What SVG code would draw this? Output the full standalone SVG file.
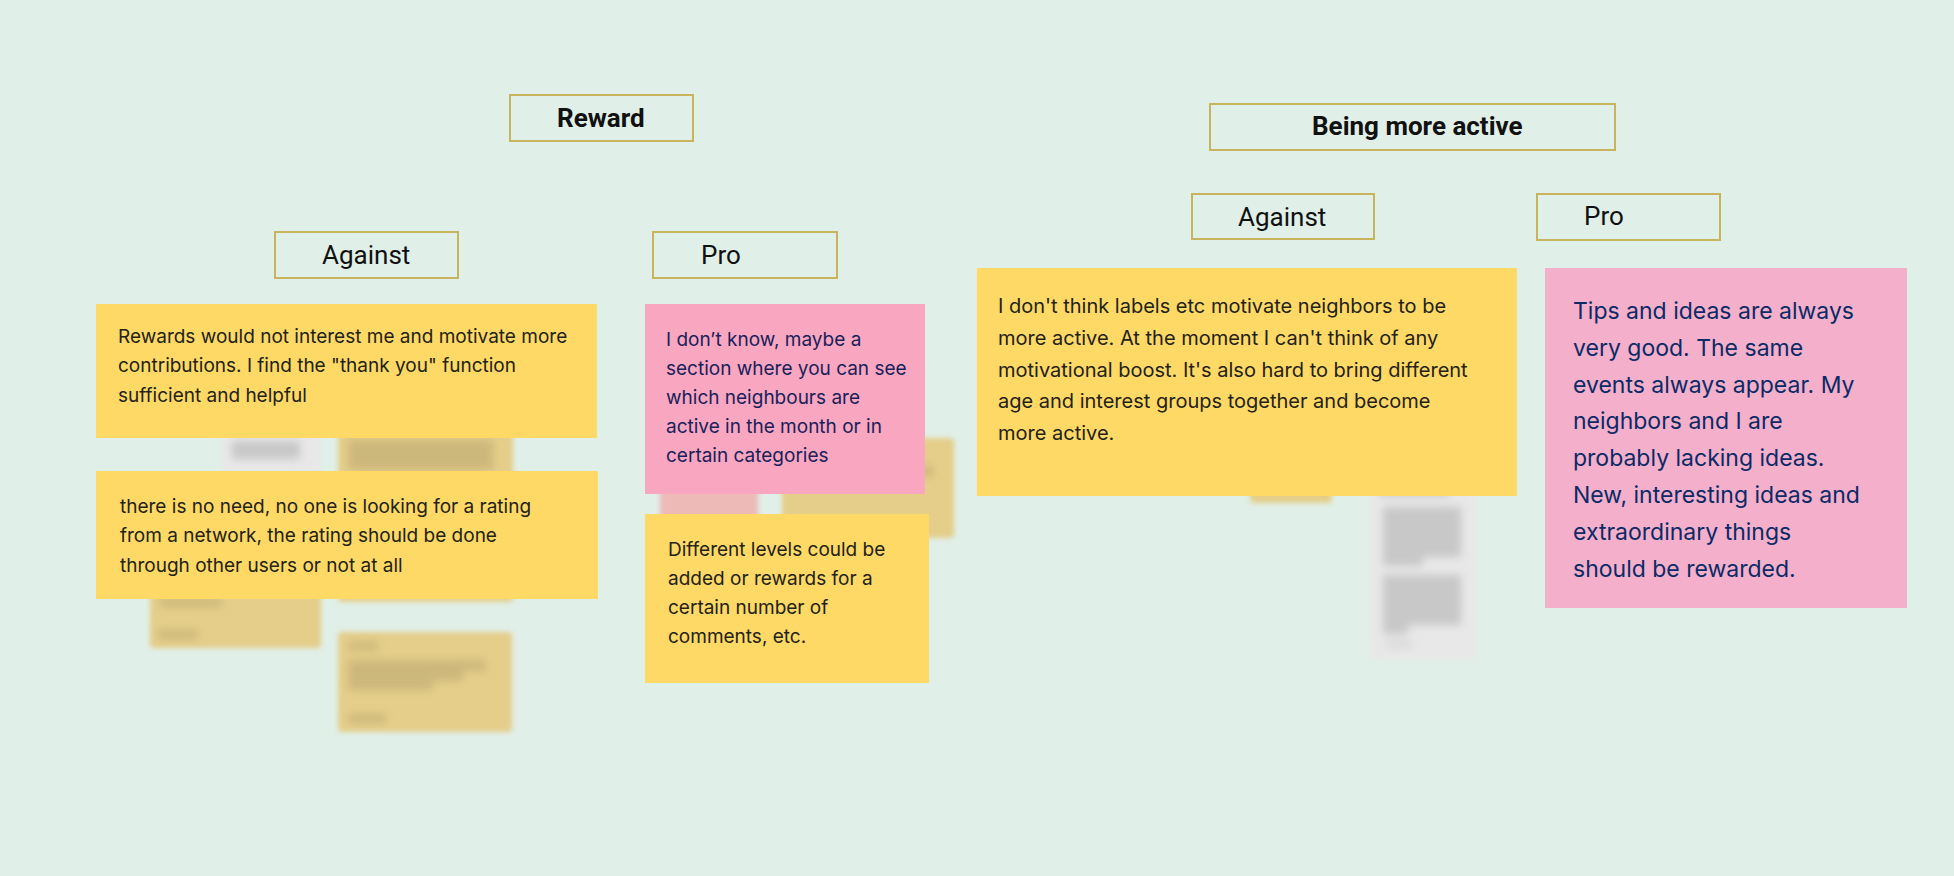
<svg xmlns="http://www.w3.org/2000/svg" width="1954" height="876" viewBox="0 0 1954 876">
<defs>
<filter id="blur" x="-20%" y="-20%" width="140%" height="140%"><feGaussianBlur stdDeviation="2.5"/></filter>
<filter id="blur2" x="-30%" y="-60%" width="160%" height="220%"><feGaussianBlur stdDeviation="4"/></filter>
<style>
.hdr{fill:#E0EFE7;stroke:#C9B45E;stroke-width:2}
.ht{font-family:Roboto,"Liberation Sans",sans-serif;font-size:26px;fill:#111}
.hb{font-weight:bold}
.yel{fill:#FFD966}
.pink1{fill:#F9A6C0}
.pink2{fill:#F4AFCB}
.nt{font-family:Inter,"Liberation Sans",sans-serif;font-size:19px;fill:#222218}
.nb{fill:#17215A}
.nc{fill:#0B2A66}
.by{fill:#E4CE8A}
.bp{fill:#EDBAB7}
.bg{fill:#E8E8E8}
.bgb{fill:#C8C8C8}
.byb{fill:#CDB87C}
</style>
</defs>
<rect x="0" y="0" width="1954" height="876" fill="#E0EFE7"/>

<g id="blurred" filter="url(#blur)">
  <rect class="bg" x="223" y="420" width="97" height="55"/>
  <rect class="by" x="338" y="420" width="175" height="182" rx="4"/>
  <rect class="by" x="150" y="560" width="171" height="88" rx="4"/>
  <rect class="by" x="338" y="632" width="174" height="100" rx="4"/>
  <rect class="bp" x="660" y="480" width="98" height="40"/>
  <rect class="by" x="782" y="438" width="172" height="100" rx="4"/>
  <rect class="by" x="1250" y="470" width="82" height="33" rx="4"/>
  <rect class="bg" x="1371" y="470" width="104" height="190"/>
</g>
<g id="blurred-text" filter="url(#blur2)">
  <rect class="bgb" x="232" y="441" width="68" height="18"/>
  <rect class="byb" x="348" y="440" width="145" height="30"/>
  <rect class="byb" x="160" y="598" width="62" height="9"/>
  <rect class="byb" x="158" y="630" width="40" height="9"/>
  <rect class="byb" x="348" y="642" width="30" height="8"/>
  <rect class="byb" x="348" y="660" width="138" height="11"/>
  <rect class="byb" x="348" y="671" width="115" height="10"/>
  <rect class="byb" x="348" y="681" width="85" height="9"/>
  <rect class="byb" x="348" y="714" width="38" height="9"/>
  <rect class="byb" x="922" y="466" width="11" height="11"/>
  <rect class="bgb" x="1380" y="482" width="70" height="14"/>
  <rect class="bgb" x="1383" y="507" width="78" height="50"/>
  <rect class="bgb" x="1383" y="555" width="40" height="11"/>
  <rect class="bgb" x="1383" y="575" width="78" height="50"/>
  <rect class="bgb" x="1383" y="623" width="25" height="11"/>
  <rect fill="#DADADA" x="1385" y="640" width="27" height="8"/>
</g>

<g id="reward">
  <rect class="hdr" x="510" y="95" width="183" height="46"/>
  <text class="ht hb" x="557" y="127">Reward</text>
</g>
<g id="reward-against">
  <rect class="hdr" x="275" y="232" width="183" height="46"/>
  <text class="ht" x="322" y="264">Against</text>
</g>
<g id="reward-pro">
  <rect class="hdr" x="653" y="232" width="184" height="46"/>
  <text class="ht" x="701" y="264">Pro</text>
</g>
<g id="active">
  <rect class="hdr" x="1210" y="104" width="405" height="46"/>
  <text class="ht hb" x="1312" y="135">Being more active</text>
</g>
<g id="active-against">
  <rect class="hdr" x="1192" y="194" width="182" height="45"/>
  <text class="ht" x="1238" y="226">Against</text>
</g>
<g id="active-pro">
  <rect class="hdr" x="1537" y="194" width="183" height="46"/>
  <text class="ht" x="1584" y="225">Pro</text>
</g>

<g id="note-reward-against-1">
  <rect class="yel" x="96" y="304" width="501" height="134"/>
  <text class="nt"><tspan x="118" y="343">Rewards would not interest me and motivate more</tspan><tspan x="118" y="372">contributions. I find the "thank you" function</tspan><tspan x="118" y="402">sufficient and helpful</tspan></text>
</g>
<g id="note-reward-against-2">
  <rect class="yel" x="96" y="471" width="502" height="128"/>
  <text class="nt"><tspan x="120" y="513">there is no need, no one is looking for a rating</tspan><tspan x="120" y="542">from a network, the rating should be done</tspan><tspan x="120" y="572">through other users or not at all</tspan></text>
</g>
<g id="note-reward-pro-1">
  <rect class="pink1" x="645" y="304" width="280" height="190"/>
  <text class="nt nb"><tspan x="666" y="346">I don’t know, maybe a</tspan><tspan x="666" y="375">section where you can see</tspan><tspan x="666" y="404">which neighbours are</tspan><tspan x="666" y="433">active in the month or in</tspan><tspan x="666" y="462">certain categories</tspan></text>
</g>
<g id="note-reward-pro-2">
  <rect class="yel" x="645" y="514" width="284" height="169"/>
  <text class="nt"><tspan x="668" y="556">Different levels could be</tspan><tspan x="668" y="585">added or rewards for a</tspan><tspan x="668" y="614">certain number of</tspan><tspan x="668" y="643">comments, etc.</tspan></text>
</g>
<g id="note-active-against">
  <rect class="yel" x="977" y="268" width="540" height="228"/>
  <text class="nt" style="font-size:20px"><tspan x="998" y="313">I don't think labels etc motivate neighbors to be</tspan><tspan x="998" y="345">more active. At the moment I can't think of any</tspan><tspan x="998" y="377">motivational boost. It's also hard to bring different</tspan><tspan x="998" y="408">age and interest groups together and become</tspan><tspan x="998" y="440">more active.</tspan></text>
</g>
<g id="note-active-pro">
  <rect class="pink2" x="1545" y="268" width="362" height="340"/>
  <text class="nt nc" style="font-size:23px"><tspan x="1573" y="319">Tips and ideas are always</tspan><tspan x="1573" y="356">very good. The same</tspan><tspan x="1573" y="393">events always appear. My</tspan><tspan x="1573" y="429">neighbors and I are</tspan><tspan x="1573" y="466">probably lacking ideas.</tspan><tspan x="1573" y="503">New, interesting ideas and</tspan><tspan x="1573" y="540">extraordinary things</tspan><tspan x="1573" y="577">should be rewarded.</tspan></text>
</g>
<g id="connectors"></g>
</svg>
